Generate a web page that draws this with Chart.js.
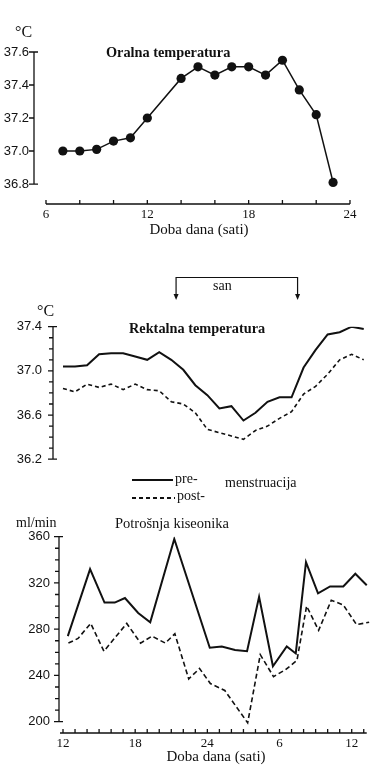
<!DOCTYPE html>
<html>
<head>
<meta charset="utf-8">
<script src="https://cdn.jsdelivr.net/npm/chart.js@4.4.1/dist/chart.umd.min.js"></script>
<style>
  html, body { margin: 0; padding: 0; background: #fff; }
  #page { position: relative; width: 375px; height: 767px; overflow: hidden; background: #fff; color: #111; font-family: "Liberation Serif", serif; }
  canvas { position: absolute; left: 0; }
  .t { position: absolute; white-space: nowrap; line-height: 1; transform: translateY(-50%); }
  .b { font-weight: bold; }
  .solid { position: absolute; height: 2px; background: #111; }
  .dash { position: absolute; height: 1.6px; background: repeating-linear-gradient(90deg, #111 0 4px, transparent 4px 7px); }
</style>
</head>
<body>
<div id="page">
  <canvas id="oral" width="375" height="245" style="top:0"></canvas>
  <canvas id="rectal" width="375" height="210" style="top:268px"></canvas>
  <canvas id="oxygen" width="375" height="267" style="top:500px"></canvas>

  <div class="t" style="left:15px;top:32px;font-size:16px">°C</div>
  <div class="t b" style="left:106px;top:52px;font-size:14.3px">Oralna temperatura</div>

  <div class="t" style="left:37px;top:311px;font-size:16px">°C</div>
  <div class="t b" style="left:129px;top:328px;font-size:14.3px">Rektalna temperatura</div>
  <div class="t" style="left:213px;top:286px;font-size:14px">san</div>

  <div class="solid" style="left:132px;top:479px;width:41px"></div>
  <div class="t" style="left:175px;top:479px;font-size:14px">pre-</div>
  <div class="dash" style="left:132px;top:497px;width:43px"></div>
  <div class="t" style="left:177px;top:496px;font-size:14px">post-</div>
  <div class="t" style="left:225px;top:483px;font-size:14px">menstruacija</div>

  <div class="t" style="left:16px;top:523px;font-size:14px">ml/min</div>
  <div class="t" style="left:115px;top:523px;font-size:14.5px">Potrošnja kiseonika</div>
</div>
<script>
const INK = '#111';
const SERIF = '"Liberation Serif", serif';
const SANS = '"Liberation Sans", sans-serif';

// Oralna temperatura (sati, °C)
const oralHours = [7, 8, 9, 10, 11, 12, 14, 15, 16, 17, 18, 19, 20, 21, 22, 23];
const oralTemp = [37.00, 37.00, 37.01, 37.06, 37.08, 37.20, 37.44, 37.51, 37.46, 37.51, 37.51, 37.46, 37.55, 37.37, 37.22, 36.81];
const oralTempTicks = [36.8, 37.0, 37.2, 37.4, 37.6];
const oralHourTicks = [6, 12, 18, 24];

// Rektalna temperatura, od 12h do 13h sledeceg dana (24+ = sledeci dan)
const rectalHours = [12, 13, 14, 15, 16, 17, 18, 19, 20, 21, 22, 23, 24, 25, 26, 27, 28, 29, 30, 31, 32, 33, 34, 35, 36, 37];
const rectalPre = [37.04, 37.04, 37.05, 37.15, 37.16, 37.16, 37.13, 37.10, 37.17, 37.10, 37.01, 36.87, 36.78,
                   36.66, 36.68, 36.55, 36.62, 36.72, 36.76, 36.76, 37.03, 37.19, 37.33, 37.35, 37.40, 37.38];
const rectalPost = [36.84, 36.81, 36.88, 36.85, 36.88, 36.83, 36.88, 36.83, 36.82, 36.72, 36.70, 36.62, 36.47,
                    36.44, 36.41, 36.38, 36.46, 36.50, 36.57, 36.63, 36.79, 36.86, 36.97, 37.10, 37.15, 37.10];
const rectalTempTicks = [36.2, 36.6, 37.0, 37.4];
const sleepHours = [21.4, 31.5];

// Potrosnja kiseonika (ml/min)
const o2PreHours = [12.4, 14.25, 15.45, 16.3, 17.15, 18.25, 19.25, 21.25, 24.2, 25.2, 26.3, 27.3, 28.3, 29.45, 30.6, 31.35, 32.2, 33.2, 34.2, 35.3, 36.3, 37.25];
const o2Pre = [274, 332, 303, 303, 307, 294, 286, 358, 264, 265, 262, 261, 308, 248, 265, 259, 338, 311, 317, 317, 328, 318];
const o2PostHours = [12.45, 13.25, 14.3, 15.4, 17.3, 18.45, 19.4, 20.5, 21.3, 22.45, 23.35, 24.25, 25.45, 27.35, 28.4, 29.5, 30.5, 31.45, 32.25, 33.25, 34.3, 35.3, 36.4, 37.45];
const o2Post = [268, 272, 285, 261, 285, 268, 274, 268, 276, 237, 246, 233, 227, 199, 258, 239, 245, 253, 300, 279, 305, 301, 284, 286];
const o2Ticks = [200, 240, 280, 320, 360];
const dayHourTicks = [12, 18, 24, 30, 36];
const dayHourLabels = ['12', '18', '24', '6', '12'];

function steps(from, step, count) {
  return Array.from({ length: count }, (_, i) => +(from + step * i).toFixed(2));
}

function points(xs, ys) {
  return xs.map((x, i) => ({ x: x, y: ys[i] }));
}

function labelFor(list, labels) {
  return v => {
    const i = list.findIndex(t => Math.abs(t - v) < 1e-6);
    return i < 0 ? '' : labels[i];
  };
}

// axis lines + tick marks, only over the range of the ticks (old-style offset axes)
const frame = {
  id: 'frame',
  afterDatasetsDraw(chart, args, opts) {
    const ctx = chart.ctx;
    const area = chart.chartArea;
    ctx.save();
    ctx.strokeStyle = INK;
    ctx.lineWidth = 1.3;
    ctx.beginPath();
    if (opts.y) {
      const ys = chart.scales.y;
      const x0 = area.left;
      const px = ys.ticks.map(t => ys.getPixelForValue(t.value));
      const top = Math.min(...px), bot = Math.max(...px);
      ctx.moveTo(x0, top); ctx.lineTo(x0, bot);
      ys.ticks.forEach((t, i) => {
        const len = t.label ? 5 : 4;
        ctx.moveTo(x0 - len, px[i]); ctx.lineTo(x0, px[i]);
      });
      ctx.moveTo(x0, top); ctx.lineTo(x0 + 4, top);
      ctx.moveTo(x0, bot); ctx.lineTo(x0 + 4, bot);
    }
    if (opts.x) {
      const xs = chart.scales.x;
      const y0 = area.bottom;
      const px = xs.ticks.map(t => xs.getPixelForValue(t.value));
      ctx.moveTo(Math.min(...px) - opts.x.over, y0); ctx.lineTo(Math.max(...px) + opts.x.over, y0);
      px.forEach(p => { ctx.moveTo(p, y0); ctx.lineTo(p, y0 - opts.x.len); });
    }
    ctx.stroke();
    ctx.restore();
  }
};

// "san" bracket over the rectal panel
const sleepBracket = {
  id: 'sleepBracket',
  afterDraw(chart) {
    const xs = chart.scales.x;
    const ctx = chart.ctx;
    const a = xs.getPixelForValue(sleepHours[0]);
    const b = xs.getPixelForValue(sleepHours[1]);
    const top = 9.5, tip = 32;
    ctx.save();
    ctx.strokeStyle = INK;
    ctx.fillStyle = INK;
    ctx.lineWidth = 1.2;
    ctx.beginPath();
    ctx.moveTo(a, tip - 5); ctx.lineTo(a, top); ctx.lineTo(b, top); ctx.lineTo(b, tip - 5);
    ctx.stroke();
    [a, b].forEach(x => {
      ctx.beginPath();
      ctx.moveTo(x - 2.5, tip - 6); ctx.lineTo(x + 2.5, tip - 6); ctx.lineTo(x, tip);
      ctx.closePath();
      ctx.fill();
    });
    ctx.restore();
  }
};

const hidden = { display: false, drawTicks: false };

new Chart(document.getElementById('oral'), {
  type: 'line',
  data: {
    datasets: [{
      label: 'Oralna temperatura',
      data: points(oralHours, oralTemp),
      borderColor: INK,
      borderWidth: 1.5,
      pointRadius: 4.6,
      pointBackgroundColor: INK,
      pointBorderWidth: 0,
      tension: 0
    }]
  },
  options: {
    responsive: false,
    animation: false,
    events: [],
    layout: { padding: { top: 52, right: 11, bottom: 0, left: 0 } },
    plugins: { legend: { display: false }, tooltip: { enabled: false }, frame: { y: true, x: { len: 4, over: 0 } } },
    scales: {
      x: {
        type: 'linear', min: 5.29, max: 24.83,
        grid: hidden, border: { display: false },
        afterFit: s => { s.height = 41; },
        afterBuildTicks: s => { s.ticks = steps(6, 2, 10).map(v => ({ value: v })); },
        ticks: { autoSkip: false, maxRotation: 0, padding: 3, color: INK, font: { family: SERIF, size: 13 },
                 callback: labelFor(oralHourTicks, oralHourTicks.map(String)) },
        title: { display: true, text: 'Doba dana (sati)', color: INK, font: { family: SERIF, size: 15 }, padding: { top: 0, bottom: 6 } }
      },
      y: {
        min: 36.679, max: 37.6,
        grid: hidden, border: { display: false },
        afterFit: s => { s.width = 34; },
        afterBuildTicks: s => { s.ticks = oralTempTicks.map(v => ({ value: v })); },
        ticks: { autoSkip: false, padding: 5, color: INK, font: { family: SANS, size: 13 },
                 callback: labelFor(oralTempTicks, oralTempTicks.map(v => v.toFixed(1))) }
      }
    }
  },
  plugins: [frame]
});

new Chart(document.getElementById('rectal'), {
  type: 'line',
  data: {
    labels: rectalHours,
    datasets: [{
      label: 'pre-',
      data: points(rectalHours, rectalPre),
      borderColor: INK,
      borderWidth: 2,
      pointRadius: 0,
      tension: 0
    }, {
      label: 'post-',
      data: points(rectalHours, rectalPost),
      borderColor: INK,
      borderWidth: 1.6,
      borderDash: [4, 3],
      pointRadius: 0,
      tension: 0
    }]
  },
  options: {
    responsive: false,
    animation: false,
    events: [],
    layout: { padding: { top: 58.7, right: 2, bottom: 12.3, left: 0 } },
    plugins: { legend: { display: false }, tooltip: { enabled: false }, frame: { y: true } },
    scales: {
      x: { type: 'linear', min: 11.169, max: 37.77, display: false },
      y: {
        min: 36.2, max: 37.4,
        grid: hidden, border: { display: false },
        afterFit: s => { s.width = 53; },
        afterBuildTicks: s => { s.ticks = steps(36.2, 0.1, 13).map(v => ({ value: v })); },
        ticks: { autoSkip: false, padding: 11, color: INK, font: { family: SANS, size: 13 },
                 callback: labelFor(rectalTempTicks, rectalTempTicks.map(v => v.toFixed(1))) }
      }
    }
  },
  plugins: [frame, sleepBracket]
});

new Chart(document.getElementById('oxygen'), {
  type: 'line',
  data: {
    datasets: [{
      label: 'pre-',
      data: points(o2PreHours, o2Pre),
      borderColor: INK,
      borderWidth: 2,
      pointRadius: 0,
      tension: 0
    }, {
      label: 'post-',
      data: points(o2PostHours, o2Post),
      borderColor: INK,
      borderWidth: 1.6,
      borderDash: [5, 3],
      pointRadius: 0,
      tension: 0
    }]
  },
  options: {
    responsive: false,
    animation: false,
    events: [],
    layout: { padding: { top: 36.7, right: 2, bottom: 0, left: 0 } },
    plugins: { legend: { display: false }, tooltip: { enabled: false }, frame: { y: true, x: { len: 4, over: 3 } } },
    scales: {
      x: {
        type: 'linear', min: 11.667, max: 37.77,
        grid: hidden, border: { display: false },
        afterFit: s => { s.height = 34; },
        afterBuildTicks: s => { s.ticks = steps(12, 1, 26).map(v => ({ value: v })); },
        ticks: { autoSkip: false, maxRotation: 0, padding: 3, color: INK, font: { family: SERIF, size: 13 },
                 callback: labelFor(dayHourTicks, dayHourLabels) },
        title: { display: true, text: 'Doba dana (sati)', color: INK, font: { family: SERIF, size: 15 }, padding: { top: 0, bottom: 1 } }
      },
      y: {
        min: 190.23, max: 360,
        grid: hidden, border: { display: false },
        afterFit: s => { s.width = 59; },
        afterBuildTicks: s => { s.ticks = steps(200, 10, 17).map(v => ({ value: v })); },
        ticks: { autoSkip: false, padding: 9, color: INK, font: { family: SANS, size: 13 },
                 callback: labelFor(o2Ticks, o2Ticks.map(String)) }
      }
    }
  },
  plugins: [frame]
});
</script>
</body>
</html>
